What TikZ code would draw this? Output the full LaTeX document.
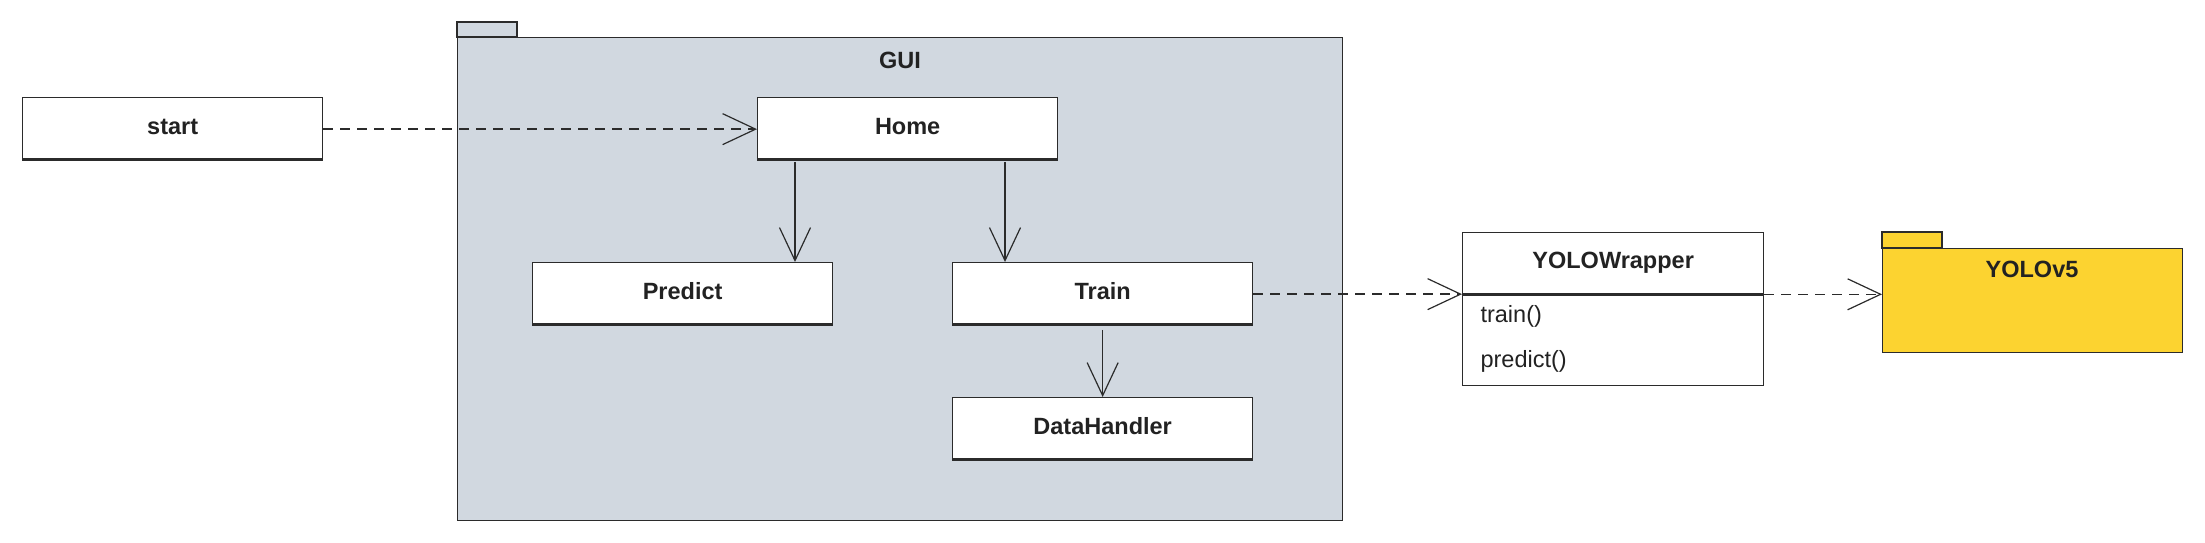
\documentclass[tikz,border=0pt]{standalone}
\usepackage{fontspec}
\setmainfont{Liberation Sans}
\usetikzlibrary{arrows.meta,calc}
\definecolor{linec}{HTML}{2B2B2B}
\definecolor{textc}{HTML}{222222}
\definecolor{guifill}{HTML}{D1D8E0}
\definecolor{yolofill}{HTML}{FCD330}
\tikzset{
  txt/.style={font=\fontsize{23.5pt}{28pt}\selectfont, text=textc},
  boldtxt/.style={font=\fontsize{23.5pt}{28pt}\selectfont\bfseries, text=textc},
  cls/.style={draw=linec, line width=1.3pt, fill=white, minimum width=300pt, minimum height=63pt, inner sep=0pt, anchor=north west, boldtxt, text height=17pt, text depth=7pt},
  pkg/.style={draw=linec, line width=1.3pt, inner sep=0pt, anchor=north west},
  bar/.style={draw=linec, line width=3.5pt},
  dep/.style={draw=linec, line width=1.5pt, dash pattern=on 10pt off 7pt, -{Straight Barb[length=33pt,width=31pt,line width=1.2pt]}},
  assoc/.style={draw=linec, line width=1.5pt, -{Straight Barb[length=33pt,width=31pt,line width=1.2pt]}},
}
\begin{document}
\begin{tikzpicture}[x=1pt,y=-1pt]
\useasboundingbox (0,0) rectangle (2205,543);
% GUI package
\draw[pkg, fill=guifill] (457,22) rectangle (517,37);
\node[pkg, fill=guifill, minimum width=885pt, minimum height=483pt] (gui) at (457,37) {};
\node[boldtxt] (guil) at (900,60) {GUI};
% YOLOv5 package
\draw[pkg, fill=yolofill] (1882,232) rectangle (1942,248);
\node[pkg, fill=yolofill, minimum width=300pt, minimum height=104pt] (yolo) at (1882,248) {};
\node[boldtxt] (yolol) at (2032,269) {YOLOv5};
% classes
\node[cls] (start) at (22,97) {start};
\node[cls] (home) at (757,97) {Home};
\node[cls] (predict) at (532,262) {Predict};
\node[cls] (train) at (952,262) {Train};
\node[cls] (data) at (952,397) {DataHandler};
\foreach \n in {start,home,predict,train,data}
  \draw[bar] ([yshift=1.75pt]\n.south west) -- ([yshift=1.75pt]\n.south east);
% YOLOWrapper
\node[cls, minimum width=301pt, minimum height=61pt] (ywt) at (1462,232) {YOLOWrapper};
\node[cls, minimum width=301pt, minimum height=92pt] (ywm) at (1462,293) {};
\draw[draw=linec, line width=3pt] (ywt.south west) -- (ywt.south east);
\node[txt, anchor=west] (m1) at (1477,316) {train()};
\node[txt, anchor=west] (m2) at (1477,361) {predict()};
% connectors
\draw[dep] (start.east) -- (start.east -| home.west);
\coordinate (hp) at (795,160);
\coordinate (ht) at (1005,160);
\draw[assoc] ([yshift=-1.75pt]hp) -- (hp |- predict.north);
\draw[assoc] ([yshift=-1.75pt]ht) -- (ht |- train.north);
\draw[assoc] ([yshift=-3.5pt]train.south) -- (data.north);
\draw[dep] (train.east) -- (train.east -| ywt.south west);
\draw[dep] (ywt.south east) -- (ywt.south east -| yolo.west);
\end{tikzpicture}
\end{document}
